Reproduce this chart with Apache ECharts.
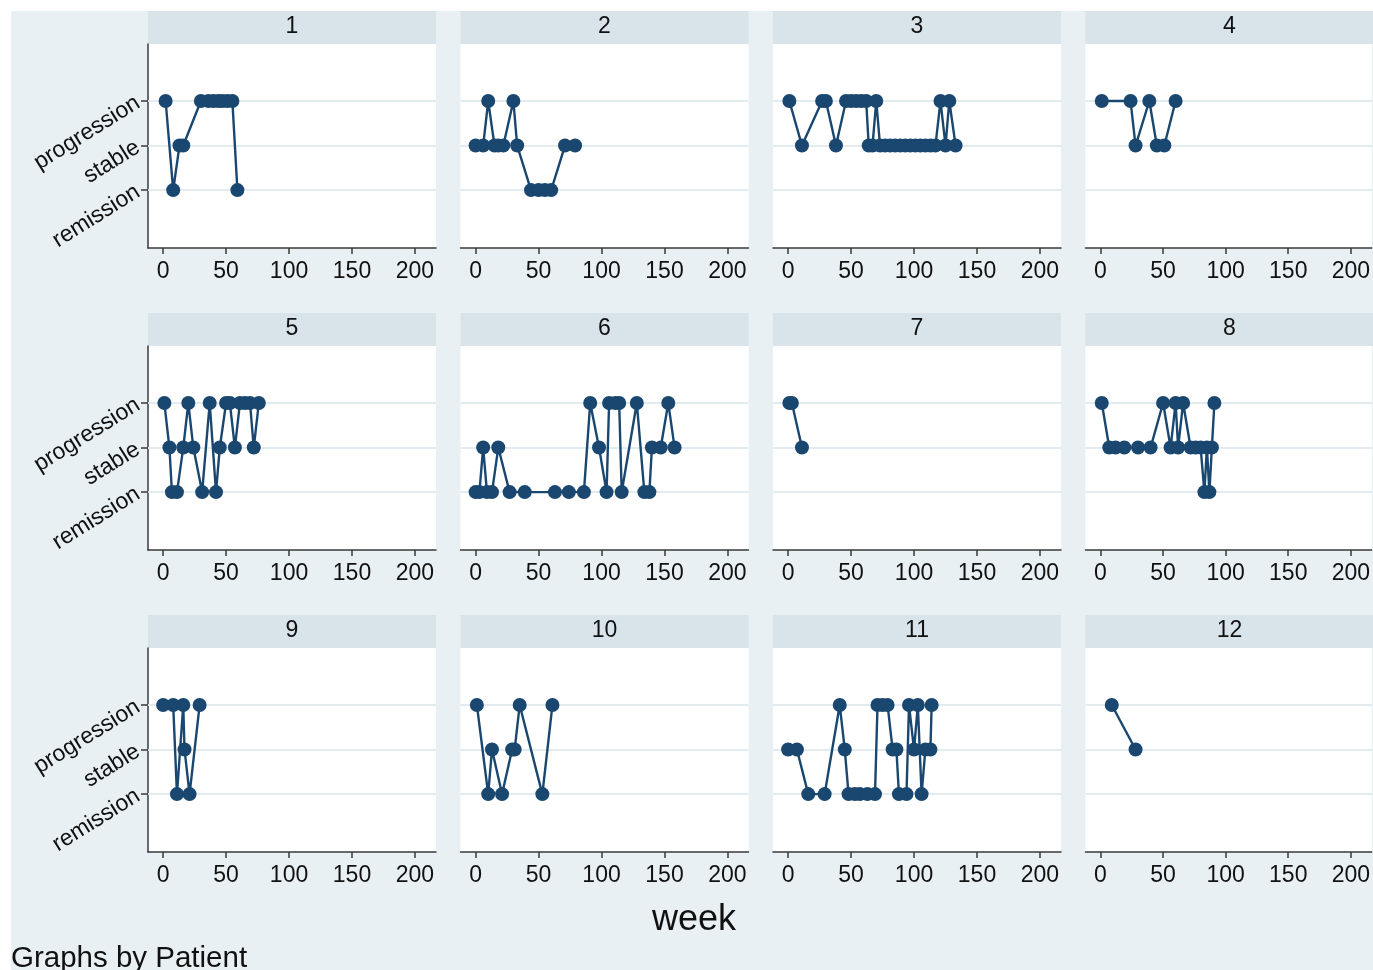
<!DOCTYPE html>
<html><head><meta charset="utf-8">
<script src="https://cdn.jsdelivr.net/npm/echarts@6/dist/echarts.min.js"></script>
<style>html,body{margin:0;padding:0;background:#fff;width:1373px;height:970px;overflow:hidden}
#c{position:absolute;left:11px;top:11px;width:1362px;height:959px}</style></head>
<body><div id="c"></div>
<script>
// status codes: 1 = remission, 2 = stable, 3 = progression
const statusNames = ['remission', 'stable', 'progression'];
const statusTicks = [1, 2, 3];
const weekTicks = [0, 50, 100, 150, 200];
const patients = ['1','2','3','4','5','6','7','8','9','10','11','12'];

const weeks1 = [2, 8, 13, 16, 30, 36, 40, 44, 47, 51, 55, 59];
const status1 = [3, 1, 2, 2, 3, 3, 3, 3, 3, 3, 3, 1];
const weeks2 = [0, 6, 10, 15, 18, 22, 30, 33, 44, 50, 55, 60, 71, 79];
const status2 = [2, 2, 3, 2, 2, 2, 3, 2, 1, 1, 1, 1, 2, 2];
const weeks3 = [1, 11, 27, 30, 38, 46, 50, 54, 58, 62, 64, 67, 70, 73, 77, 81, 85, 89, 93, 97, 101, 105, 109, 113, 117, 121, 125, 128, 133];
const status3 = [3, 2, 3, 3, 2, 3, 3, 3, 3, 3, 2, 2, 3, 2, 2, 2, 2, 2, 2, 2, 2, 2, 2, 2, 2, 3, 2, 3, 2];
const weeks4 = [1, 24, 28, 39, 45, 51, 60];
const status4 = [3, 3, 2, 3, 2, 2, 3];
const weeks5 = [1, 5, 7, 11, 16, 20, 24, 31, 37, 42, 45, 50, 53, 57, 61, 65, 69, 72, 76];
const status5 = [3, 2, 1, 1, 2, 3, 2, 1, 3, 1, 2, 3, 3, 2, 3, 3, 3, 2, 3];
const weeks6 = [0, 3, 6, 9, 13, 18, 27, 39, 63, 74, 86, 91, 98, 104, 106, 111, 114, 116, 128, 134, 138, 140, 147, 153, 158];
const status6 = [1, 1, 2, 1, 1, 2, 1, 1, 1, 1, 1, 3, 2, 1, 3, 3, 3, 1, 3, 1, 1, 2, 2, 3, 2];
const weeks7 = [1, 3, 11];
const status7 = [3, 3, 2];
const weeks8 = [1, 7, 12, 19, 30, 40, 50, 56, 60, 62, 66, 72, 76, 80, 83, 85, 87, 89, 91];
const status8 = [3, 2, 2, 2, 2, 2, 3, 2, 3, 2, 3, 2, 2, 2, 1, 2, 1, 2, 3];
const weeks9 = [0, 8, 11, 16, 17, 21, 29];
const status9 = [3, 3, 1, 3, 2, 1, 3];
const weeks10 = [1, 10, 13, 21, 29, 31, 35, 53, 61];
const status10 = [3, 1, 2, 1, 2, 2, 3, 1, 3];
const weeks11 = [0, 7, 16, 29, 41, 45, 48, 53, 57, 63, 69, 71, 75, 79, 83, 86, 88, 94, 96, 100, 103, 106, 109, 113, 114];
const status11 = [2, 2, 1, 1, 3, 2, 1, 1, 1, 1, 1, 3, 3, 3, 2, 2, 1, 1, 3, 2, 3, 1, 2, 2, 3];
const weeks12 = [9, 28];
const status12 = [3, 2];

const allWeeks = [weeks1, weeks2, weeks3, weeks4, weeks5, weeks6, weeks7, weeks8, weeks9, weeks10, weeks11, weeks12];
const allStatus = [status1, status2, status3, status4, status5, status6, status7, status8, status9, status10, status11, status12];

const FONT = 'Liberation Sans, Arial, sans-serif';
const NAVY = '#1a476f';
const AXIS = '#3a3a3a';
const grids = [], xAxes = [], yAxes = [], series = [], graphics = [];

for (let i = 0; i < 12; i++) {
  const r = Math.floor(i / 4), c = i % 4;
  const left = 137 + c * 312.5, top = 33 + r * 302;
  grids.push({left: left, top: top, width: 288, height: 204, show: true,
    backgroundColor: '#ffffff', borderWidth: 0});
  xAxes.push({gridIndex: i, type: 'value', min: -12, max: 216.7,
    axisLine: {show: true, onZero: false, lineStyle: {color: AXIS, width: 1.5}},
    axisTick: {show: true, length: 6, customValues: weekTicks, lineStyle: {color: AXIS, width: 1.5}},
    axisLabel: {customValues: weekTicks, fontSize: 23, color: '#111', margin: 12, fontFamily: FONT},
    splitLine: {show: false}});
  yAxes.push({gridIndex: i, type: 'value', min: -0.3, max: 4.28,
    axisLine: {show: c === 0, onZero: false, lineStyle: {color: AXIS, width: 1.5}},
    axisTick: {show: c === 0, length: 7, customValues: statusTicks, lineStyle: {color: AXIS, width: 1.5}},
    axisLabel: {show: c === 0, customValues: statusTicks, rotate: 32, fontSize: 23, color: '#111',
      margin: 10, fontFamily: FONT, formatter: v => statusNames[Math.round(v) - 1]},
    splitLine: {show: false}});
  series.push({type: 'line', xAxisIndex: i, yAxisIndex: i, data: [], z: 1, silent: true,
    markLine: {silent: true, z: 1, symbol: 'none', label: {show: false}, animation: false,
      lineStyle: {color: '#e2ecf0', width: 2, type: 'solid'},
      data: statusTicks.map(v => ({yAxis: v}))}});
  series.push({type: 'line', xAxisIndex: i, yAxisIndex: i, z: 6, animation: false,
    data: allWeeks[i].map((w, k) => [w, allStatus[i][k]]),
    symbol: 'circle', symbolSize: 14, showSymbol: true,
    lineStyle: {color: NAVY, width: 2.4}, itemStyle: {color: NAVY}});
  graphics.push({type: 'rect', silent: true, shape: {x: left, y: top - 33, width: 288, height: 33},
    style: {fill: '#d8e4ea'}});
  graphics.push({type: 'text', silent: true, x: left + 144, y: top - 17,
    style: {text: patients[i], fill: '#111', fontSize: 23, fontFamily: FONT, align: 'center', verticalAlign: 'middle'}});
}
graphics.push({type: 'text', silent: true, x: 683, y: 909,
  style: {text: 'week', fill: '#111', fontSize: 36, fontFamily: FONT, align: 'center', verticalAlign: 'middle'}});
graphics.push({type: 'text', silent: true, x: 0, y: 948,
  style: {text: 'Graphs by Patient', fill: '#111', fontSize: 29.5, fontFamily: FONT, align: 'left', verticalAlign: 'middle'}});

const chart = echarts.init(document.getElementById('c'));
chart.setOption({
  backgroundColor: '#e9f0f3',
  animation: false,
  grid: grids, xAxis: xAxes, yAxis: yAxes, series: series, graphic: graphics
});
</script></body></html>
